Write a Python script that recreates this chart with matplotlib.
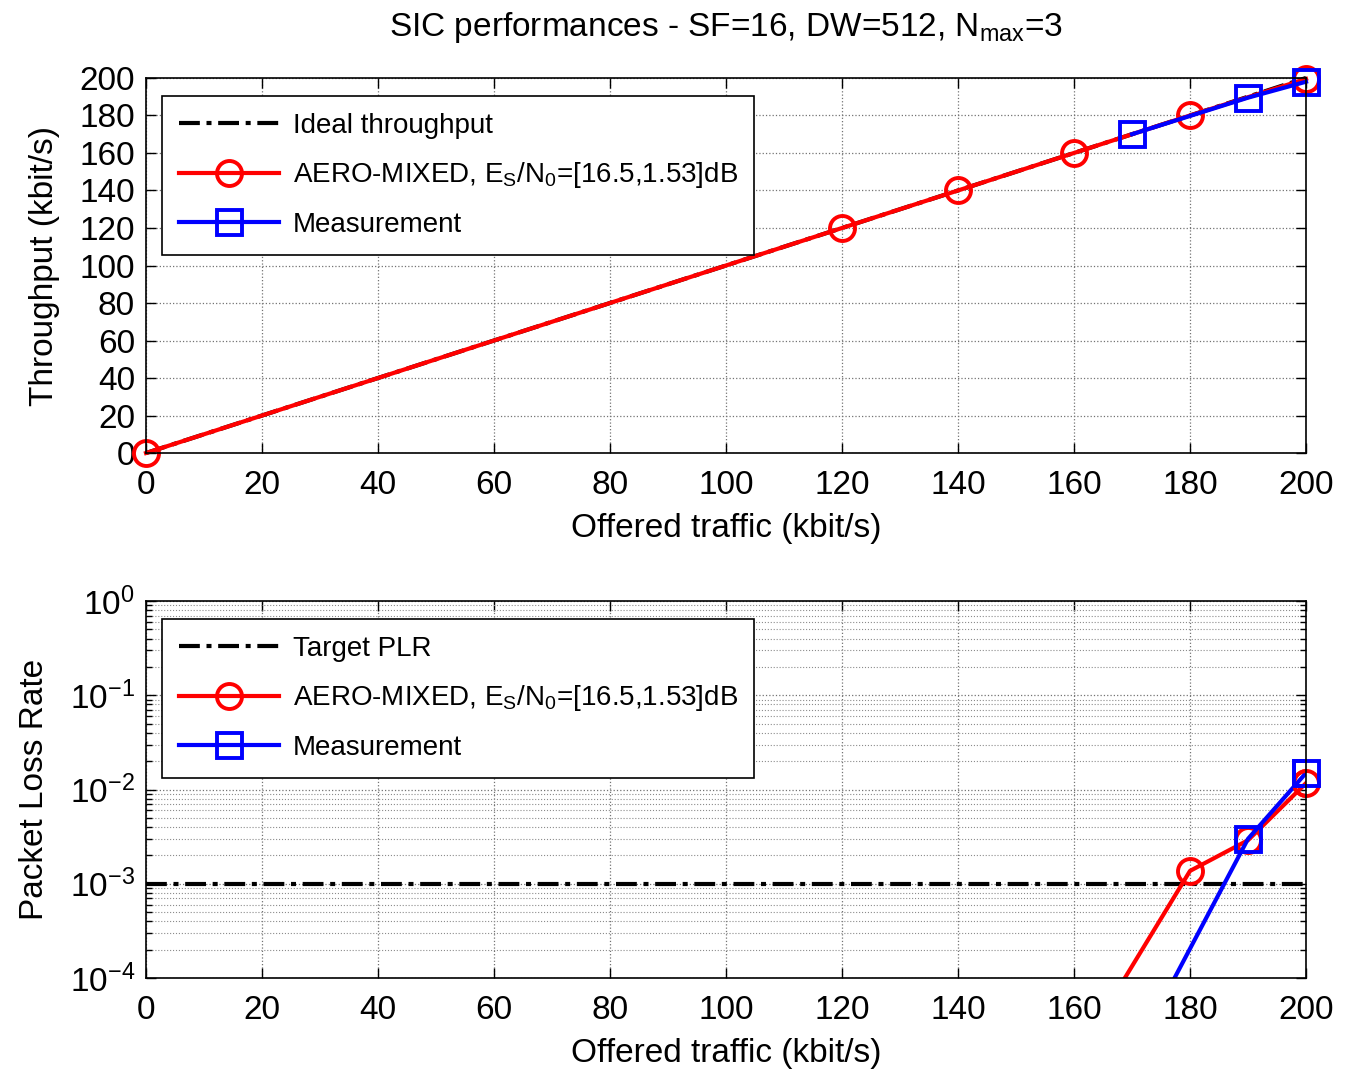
import numpy as np
import matplotlib
matplotlib.use("Agg")
import matplotlib.pyplot as plt
from matplotlib.ticker import LogLocator, NullFormatter

plt.rcParams['font.family'] = ['Liberation Sans', 'DejaVu Sans']
plt.rcParams['mathtext.default'] = 'regular'

# data
ideal_x = [0, 200]
ideal_y = [0, 200]

aero_x = [0, 120, 140, 160, 180, 200]
aero_thr = [0, 120, 140, 160, 180, 199.5]

meas_x = [170, 190, 200]
meas_thr = [170, 189.5, 198]

plr_aero_x = [160, 180, 190, 200]
plr_aero = [1.3e-5, 1.37e-3, 2.9e-3, 1.17e-2]

plr_meas_x = [170, 190, 200]
plr_meas = [1.4e-5, 3.0e-3, 1.5e-2]

target_plr = 1e-3

aero_label = 'AERO-MIXED, E$_S$/N$_0$=[16.5,1.53]dB'

fig = plt.figure(figsize=(13.62, 10.71), dpi=100)
ax1 = fig.add_axes([0.1072, 0.577, 0.8517, 0.3502])
ax2 = fig.add_axes([0.1072, 0.0868, 0.8517, 0.352])

lw = 3
ms = 18
mew = 2.8
dashdot = (0, (5, 1.6, 1.2, 1.6))

# top chart
ax1.plot(ideal_x, ideal_y, color='k', ls=dashdot, lw=lw, label='Ideal throughput', clip_on=False)
ax1.plot(aero_x, aero_thr, color='red', lw=lw, marker='o', ms=ms, mfc='none', mew=mew,
         label=aero_label, clip_on=False)
ax1.plot(meas_x, meas_thr, color='blue', lw=lw, marker='s', ms=ms, mfc='none', mew=mew,
         label='Measurement', clip_on=False)
ax1.set_xlim(0, 200)
ax1.set_ylim(0, 200)
ax1.set_xticks(np.arange(0, 201, 20))
ax1.set_yticks(np.arange(0, 201, 20))
ax1.set_xlabel('Offered traffic (kbit/s)', fontsize=24, labelpad=9)
ax1.set_ylabel('Throughput (kbit/s)', fontsize=24, labelpad=14)
ax1.set_title('SIC performances - SF=16, DW=512, N$_{max}$=3', fontsize=24, pad=30)

# bottom chart
ax2.axhline(target_plr, color='k', ls=dashdot, lw=lw, label='Target PLR')
ax2.plot(plr_aero_x, plr_aero, color='red', lw=lw, marker='o', ms=ms, mfc='none', mew=mew,
         label=aero_label)
ax2.plot(plr_meas_x, plr_meas, color='blue', lw=lw, marker='s', ms=ms, mfc='none', mew=mew,
         label='Measurement')
ax2.set_yscale('log')
ax2.set_xlim(0, 200)
ax2.set_ylim(1e-4, 1)
ax2.set_xticks(np.arange(0, 201, 20))
ax2.yaxis.set_major_locator(LogLocator(base=10, numticks=10))
ax2.yaxis.set_minor_locator(LogLocator(base=10, subs=np.arange(2, 10), numticks=20))
ax2.yaxis.set_minor_formatter(NullFormatter())
ax2.set_xlabel('Offered traffic (kbit/s)', fontsize=24, labelpad=9)
ax2.set_ylabel('Packet Loss Rate', fontsize=24, labelpad=14)
ax2.grid(True, which='minor', axis='y', color='0.55', ls=':', lw=0.8)

for ax in (ax1, ax2):
    ax.grid(True, which='major', color='0.45', ls=':', lw=0.9)
    ax.tick_params(which='both', direction='in', top=True, right=True, labelsize=24, pad=12)
    ax.tick_params(which='major', length=7, width=1)
    ax.tick_params(which='minor', length=4, width=1)
    for s in ax.spines.values():
        s.set_linewidth(1.2)
    leg = ax.legend(loc='upper left', bbox_to_anchor=(0.014, 0.952), fontsize=20,
                    fancybox=False, framealpha=1, edgecolor='k', handlelength=3.6,
                    borderpad=0.6, labelspacing=0.78, handletextpad=0.5, borderaxespad=0)
    leg.get_frame().set_linewidth(1.2)
ax1.tick_params(axis='y', pad=8)
ax2.tick_params(axis='y', pad=8)

# markers sit on top of the frame at x=200 like in the source
ax2.plot(plr_aero_x[-1:], plr_aero[-1:], color='red', ls='none', marker='o', ms=ms, mfc='none',
         mew=mew, clip_on=False)
ax2.plot(plr_meas_x[-1:], plr_meas[-1:], color='blue', ls='none', marker='s', ms=ms, mfc='none',
         mew=mew, clip_on=False)

fig.savefig('out.png', dpi=100)
